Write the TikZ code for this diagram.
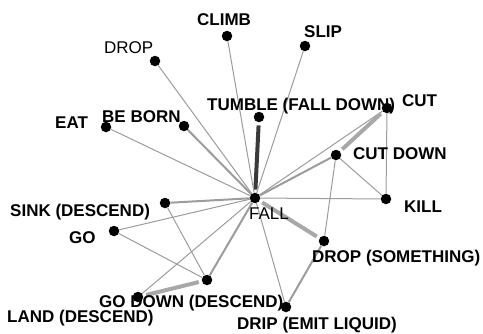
\documentclass[tikz,border=0pt]{standalone}
\usepackage{fontspec}
\setmainfont{Liberation Sans}
\usetikzlibrary{backgrounds}
\definecolor{edgegray}{HTML}{9C9C9C}
\definecolor{heavygray}{HTML}{A8A8A8}
\definecolor{edgedark}{HTML}{3A3A3A}
\begin{document}
\begin{tikzpicture}[x=1pt,y=-1pt,
  dot/.style={circle,fill=black,inner sep=0pt,minimum size=10.5pt},
  lbl/.style={anchor=base west,inner sep=0pt,font=\fontsize{17}{20}\selectfont\bfseries},
  lblplain/.style={anchor=base west,inner sep=0pt,font=\fontsize{17}{20}\selectfont},
  weak/.style={draw=edgegray,line width=1pt},
  mid/.style={draw=edgegray,line width=2pt},
  strong/.style={draw=heavygray,line width=4pt,shorten <=3pt,shorten >=3pt},
  darkedge/.style={draw=edgedark,line width=4pt,shorten <=3pt,shorten >=3pt}]
\useasboundingbox (0,0) rectangle (483,333);

% vertices
\node[dot] (fall)    at (255,198) {};
\node[dot] (tumble)  at (259,117) {};
\node[dot] (climb)   at (227,36)  {};
\node[dot] (slip)    at (305,46)  {};
\node[dot] (drop)    at (155,61)  {};
\node[dot] (eat)     at (106,127) {};
\node[dot] (beborn)  at (184,126) {};
\node[dot] (cut)     at (387,108) {};
\node[dot] (cutdown) at (336,155) {};
\node[dot] (kill)    at (386,199) {};
\node[dot] (dropsth) at (324,241) {};
\node[dot] (drip)    at (286,307) {};
\node[dot] (sink)    at (165,203) {};
\node[dot] (go)      at (114,231) {};
\node[dot] (godown)  at (207,280) {};
\node[dot] (land)    at (138,297) {};

% connectors
\begin{scope}[on background layer]
\draw[darkedge] (fall) -- (tumble);
\draw[weak] (fall) -- (climb);
\draw[weak] (fall) -- (slip);
\draw[weak] (fall) -- (drop);
\draw[weak] (fall) -- (eat);
\draw[mid] (fall) -- (beborn);
\draw[weak] (fall) -- (cut);
\draw[mid] (fall) -- (cutdown);
\draw[weak] (fall) -- (kill);
\draw[strong] (fall) -- (dropsth);
\draw[weak] (fall) -- (drip);
\draw[mid] (fall) -- (sink);
\draw[weak] (fall) -- (go);
\draw[mid] (fall) -- (godown);
\draw[weak] (fall) -- (land);
\draw[strong] (cut) -- (cutdown);
\draw[weak] (cut) -- (kill);
\draw[weak] (cutdown) -- (kill);
\draw[weak] (cutdown) -- (dropsth);
\draw[mid] (dropsth) -- (drip);
\draw[weak] (go) -- (godown);
\draw[weak] (sink) -- (godown);
\draw[strong] (godown) -- (land);
\end{scope}

% labels
\node[lbl] (l-climb)   at (197,25)  {CLIMB};
\node[lbl] (l-slip)    at (304,37)  {SLIP};
\node[lblplain] (l-drop) at (104,53) {DROP};
\node[lbl] (l-eat)     at (55,128)  {EAT};
\node[lbl] (l-beborn)  at (102,122) {BE BORN};
\node[lbl] (l-tumble)  at (207,110) {TUMBLE (FALL DOWN)};
\node[lbl] (l-cut)     at (402,106) {CUT};
\node[lbl] (l-cutdown) at (353,159) {CUT DOWN};
\node[lbl] (l-kill)    at (404,212) {KILL};
\node[lblplain] (l-fall) at (249,219) {FALL};
\node[lbl] (l-dropsth) at (312,262) {DROP (SOMETHING)};
\node[lbl] (l-drip)    at (237,329) {DRIP (EMIT LIQUID)};
\node[lbl] (l-godown)  at (99,307)  {GO DOWN (DESCEND)};
\node[lbl] (l-land)    at (7,322)   {LAND (DESCEND)};
\node[lbl] (l-sink)    at (10,216)  {SINK (DESCEND)};
\node[lbl] (l-go)      at (69,243)  {GO};
\end{tikzpicture}
\end{document}
